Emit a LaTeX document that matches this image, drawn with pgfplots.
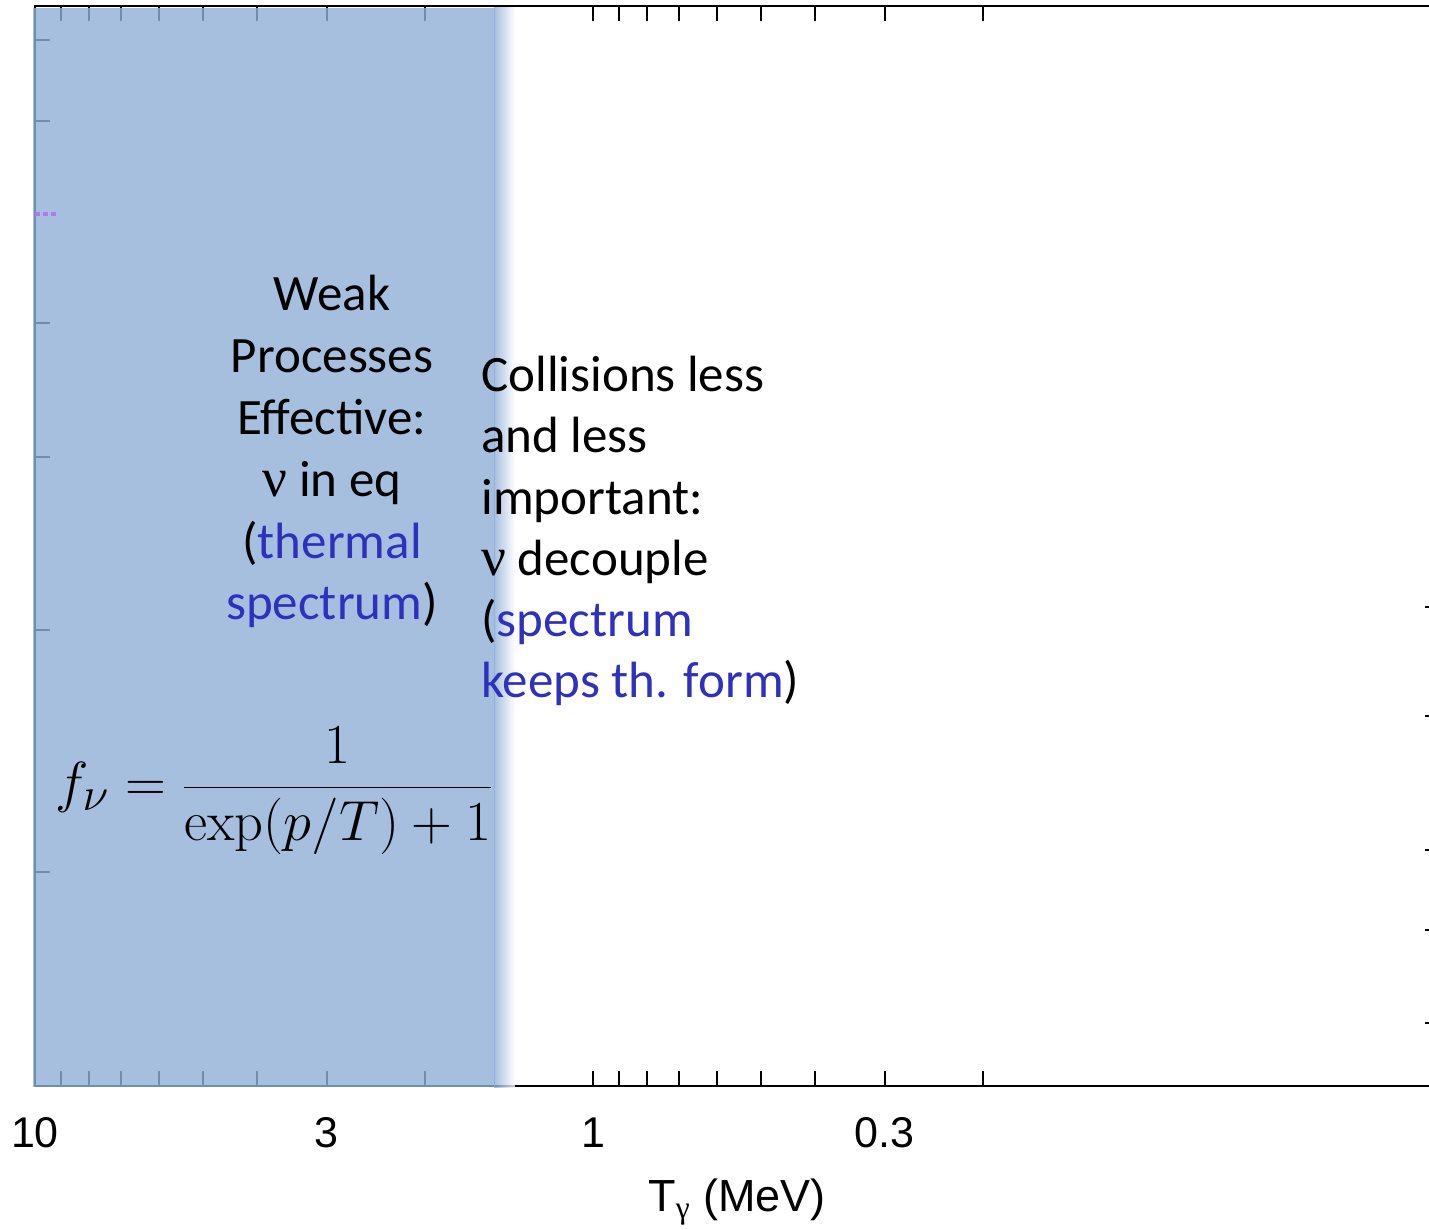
\documentclass[border=0pt]{standalone}
\usepackage{graphicx}
\usepackage[no-math]{fontspec}
\setmainfont{Carlito}
\newfontfamily\tickfont{Liberation Sans}
\newfontfamily\greekf{Liberation Serif}
\usepackage{pgfplots}
\pgfplotsset{compat=1.18}
\definecolor{ovl}{RGB}{145,175,215}
\definecolor{txtblue}{RGB}{46,48,190}
\definecolor{purp}{RGB}{175,120,235}
\newcommand{\bodyfont}{\fontsize{25.5}{31}\selectfont}
\newcommand{\tfont}{\tickfont\fontsize{21.5}{25}\selectfont}
\newcommand{\nuglyph}{{\greekf\fontsize{27.5}{31}\selectfont ν}}
\begin{document}
\begin{tikzpicture}
\useasboundingbox (0,0) rectangle (714.5pt,615pt);
\begin{axis}[
  at={(17.5pt,72pt)}, anchor=south west,
  scale only axis, width=702pt, height=540pt,
  xmode=log, x dir=reverse, xmin=0.03048, xmax=10,
  ymin=0, ymax=1080,
  clip=false,
  axis line style={line width=1.2pt, black},
  xtick={10,3,1,0.3}, xticklabels={10,3,1,0.3},
  minor xtick={9,8,7,6,5,4,2,0.9,0.8,0.7,0.6,0.5,0.4,0.2},
  ytick={1046,965,763,629,456,214}, yticklabels={},
  ytick pos=left, xtick pos=both, tick align=inside,
  major tick length=7.5pt, minor tick length=7.5pt,
  tick style={black, line width=1pt},
  xticklabel style={font=\tfont, anchor=base, yshift=-31pt},
  xlabel={T\textsubscript{\greekf γ} (MeV)},
  xlabel style={font=\tickfont\fontsize{22.5}{26}\selectfont, at={(axis description cs:0.5,0)}, anchor=base, yshift=-63pt},
]
\addplot[draw=none, fill=ovl, fill opacity=0.8] coordinates {(10.08,-1.5) (10.08,1078) (1.50,1078) (1.50,-1.5)} -- cycle;
\addplot[draw=none, shading=axis, left color=ovl, right color=white, fill opacity=0.8] coordinates {(1.504,-1.5) (1.504,1078) (1.38,1078) (1.38,-1.5)} -- cycle;
\addplot[purp, dash pattern=on 2.5pt off 1.5pt, line width=1.6pt] coordinates {(10,872) (9.09,872)};
\end{axis}
\begin{axis}[
  at={(17.5pt,72pt)}, anchor=south west,
  scale only axis, width=702pt, height=540pt,
  xmode=log, x dir=reverse, xmin=0.03048, xmax=10,
  ymin=0, ymax=1080,
  hide x axis, axis y line*=right, tick align=inside,
  ytick={479,370,236,156,63}, yticklabels={},
  major tick length=7pt, tick style={black, line width=1pt},
  axis line style={line width=1.2pt, black},
]
\addplot[draw=none] coordinates {(1,500)};
\end{axis}
% left block
\begin{scope}[every node/.style={inner sep=0pt, anchor=base, font=\bodyfont}]
\node at (166pt,459.5pt) {Weak};
\node at (166pt,428.6pt) {Processes};
\node at (166pt,397.7pt) {Effective:};
\node at (166pt,366.8pt) {\nuglyph{} in eq};
\node at (166pt,335.9pt) {(\textcolor{txtblue}{thermal}};
\node at (166pt,305pt) {\textcolor{txtblue}{spectrum})};
\end{scope}
\begin{scope}[every node/.style={inner sep=0pt, anchor=base west, font=\bodyfont}]
\node at (240.5pt,419.25pt) {Collisions less};
\node at (240.5pt,388.6pt) {and less};
\node at (240.5pt,357.95pt) {important:};
\node at (240.5pt,327.3pt) {\nuglyph{} decouple};
\node at (240.5pt,296.65pt) {(\textcolor{txtblue}{spectrum}};
\node at (240.5pt,266pt) {\textcolor{txtblue}{keeps th. form})};
\end{scope}
\node[inner sep=0pt, anchor=base west, font=\fontsize{24.88}{30}\selectfont] at (27.5pt,214pt)
  {\scalebox{1.136}{$\displaystyle f_\nu = \frac{1}{\exp(p/T)+1}$}};
\end{tikzpicture}
\end{document}
